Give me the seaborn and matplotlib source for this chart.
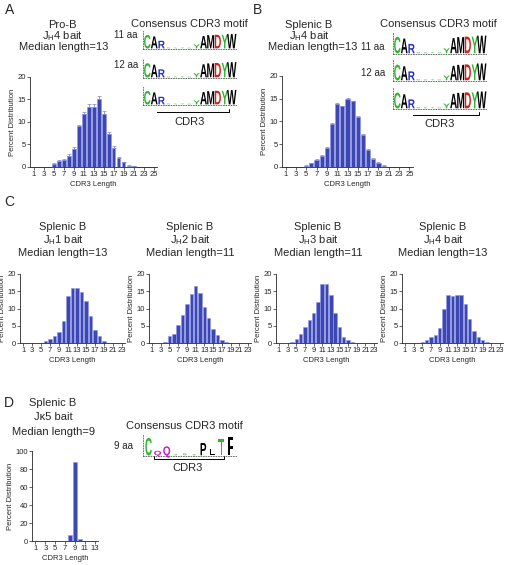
import matplotlib
matplotlib.use("Agg")
import numpy as np
import pandas as pd
import seaborn as sns
import matplotlib.pyplot as plt
from matplotlib import patheffects
from matplotlib.transforms import Affine2D

sns.set_style("ticks")
plt.rcParams["font.family"] = ["Liberation Sans", "DejaVu Sans"]
plt.rcParams["mathtext.default"] = "regular"

# CDR3 length distributions (percent)
len_25 = list(range(1, 26))
len_23 = list(range(1, 24))
len_13 = list(range(1, 14))

prob_jh4 = [0, 0, 0.05, 0.1, 0.7, 1.3, 1.5, 2.5, 4.1, 9.0, 11.8, 13.3, 13.3,
            15.0, 11.7, 7.4, 4.2, 2.0, 1.0, 0.3, 0.15, 0.05, 0, 0, 0]
prob_jh4_err = [0, 0, 0, 0, 0.15, 0.2, 0.2, 0.3, 0.3, 0.4, 0.4, 0.8, 0.8,
                0.7, 0.8, 0.3, 0.4, 0.15, 0.1, 0.05, 0, 0, 0, 0, 0]
spl_jh4 = [0, 0, 0, 0.05, 0.3, 0.8, 1.6, 2.4, 4.2, 9.5, 13.9, 13.3, 15.0,
           14.4, 11.0, 7.0, 3.7, 1.8, 0.9, 0.3, 0.1, 0, 0, 0, 0]
spl_jh4_err = [0, 0, 0, 0, 0.1, 0.1, 0.1, 0.2, 0.2, 0.2, 0.2, 0.2, 0.2,
               0.2, 0.2, 0.2, 0.2, 0.1, 0.1, 0.05, 0, 0, 0, 0, 0]

spl_jh1 = [0, 0, 0, 0, 0.1, 0.5, 1.3, 1.9, 3.1, 6.5, 13.5, 15.8, 16.0,
           14.8, 12.1, 7.8, 3.9, 2.0, 0.5, 0.1, 0, 0, 0]
spl_jh2 = [0, 0, 0, 0.2, 2.0, 2.6, 5.2, 8.1, 11.2, 14.2, 16.5, 14.5, 10.5,
           7.2, 4.0, 2.2, 1.0, 0.2, 0, 0, 0, 0, 0]
spl_jh3 = [0, 0, 0, 0.2, 1.3, 2.5, 4.5, 6.6, 8.8, 12.0, 17.0, 17.1, 13.8,
           8.7, 4.6, 1.8, 0.8, 0.2, 0, 0, 0, 0, 0]
spl_jh4c = [0, 0, 0, 0, 0.4, 0.8, 1.6, 2.4, 4.3, 9.8, 14.0, 13.7, 14.0,
            13.8, 11.3, 7.0, 3.4, 1.6, 0.8, 0.2, 0, 0, 0]
spl_jk5 = [0, 0, 0, 0, 0, 0, 0.5, 6.5, 88.0, 2.5, 0.3, 0, 0]

# consensus motif logos (letter, information content in bits, colour)
heavy_letters = ["C", "A", "R", "G", "S", "Y", "G", "Y", "A", "M", "D", "Y", "W"]
heavy_bits = [3.3, 3.0, 1.9, 0.25, 0.2, 0.25, 0.2, 1.0, 3.1, 3.3, 3.4, 3.4, 3.6]
heavy_colors = ["#2fb52f", "black", "#2233cc", "#2fb52f", "#2fb52f", "#2fb52f",
                "#2fb52f", "#2fb52f", "black", "black", "#d42020", "#2fb52f", "black"]
light_letters = ["C", "Q", "Q", "S", "G", "S", "P", "L", "T", "F"]
light_bits = [3.5, 0.9, 1.8, 0.25, 0.45, 0.25, 2.5, 1.2, 3.3, 3.7]
light_colors = ["#2fb52f", "#c020c0", "#c020c0", "#2fb52f", "#2fb52f", "#2fb52f",
                "black", "black", "#2fb52f", "black"]

W, H = 505, 565
fig = plt.figure(figsize=(W / 100, H / 100), dpi=100)
ov = fig.add_axes([0, 0, 1, 1])
ov.set_xlim(0, W)
ov.set_ylim(H, 0)
ov.axis("off")

BAR = "#2a37c4"


class Stretch(patheffects.AbstractPathEffect):
    """Stretch a glyph vertically about its baseline (logo letters)."""

    def __init__(self, sy):
        super().__init__()
        self.sy = sy

    def draw_path(self, renderer, gc, tpath, affine, rgbFace=None):
        ext = tpath.get_extents()
        cx = (ext.x0 + ext.x1) / 2
        t = Affine2D().translate(-cx, 0).scale(1, self.sy).translate(cx, 0) + affine
        renderer.draw_path(gc, tpath, t, rgbFace)


def px_axes(x0, y0, x1, y1):
    return fig.add_axes([x0 / W, 1 - y1 / H, (x1 - x0) / W, (y1 - y0) / H])


def bar_panel(box, lengths, vals, errs, ymax, ystep):
    ax = px_axes(*box)
    df = pd.DataFrame({"len": lengths, "pct": vals})
    sns.barplot(data=df, x="len", y="pct", native_scale=True, width=0.8,
                color=BAR, edgecolor="#8e97ee", linewidth=0.4,
                errorbar=None, ax=ax)
    if errs is not None:
        ax.errorbar(lengths, vals, yerr=[np.zeros(len(errs)), errs], fmt="none",
                    ecolor="#8088c8", elinewidth=0.6, capsize=1.2, capthick=0.5)
    ax.set_xlim(lengths[0] - 0.7, lengths[-1] + 0.7)
    ax.set_ylim(0, ymax)
    ax.set_xticks(lengths[::2])
    ax.set_yticks(np.arange(0, ymax + 1, ystep))
    ax.tick_params(labelsize=5.5, length=2, width=0.5, pad=1)
    ax.set_xlabel("CDR3 Length", fontsize=5.5, labelpad=2)
    ax.set_ylabel("Percent Distribution", fontsize=5.5, labelpad=1)
    for s in ["left", "bottom"]:
        ax.spines[s].set_linewidth(0.6)
    sns.despine(ax=ax)
    return ax


def logo(box, letters, bits, colors):
    ax = px_axes(*box)
    n = len(letters)
    ax.set_xlim(-0.6, n - 0.4)
    ax.set_ylim(0, 4.3)
    h_px = box[3] - box[1]
    for i, (ch, b, c) in enumerate(zip(letters, bits, colors)):
        fs = 7.2 if b >= 0.6 else 3.5
        want = b / 4.3 * h_px
        sy = want / (0.72 * fs * 100 / 72)
        ax.text(i, 0.15, ch, ha="center", va="baseline", color=c,
                fontsize=fs, fontweight="bold",
                path_effects=[Stretch(sy)])
    ax.set_xticks([])
    ax.set_yticks([])
    ax.patch.set_alpha(0)
    for s in ["top", "right"]:
        ax.spines[s].set_visible(False)
    for s in ["left", "bottom"]:
        ax.spines[s].set_linestyle((0, (1, 2)))
        ax.spines[s].set_linewidth(0.6)
        ax.spines[s].set_color("#555555")


def txt(x, y, s, size=8, **kw):
    ov.text(x, y, s, ha="center", va="center", fontsize=size, **kw)


def bracket(x0, x1, y):
    ov.plot([x0, x0, x1, x1], [y - 3, y, y, y - 3], color="black", lw=0.7)


# panel letters
for lab, x, y in [("A", 10, 10), ("B", 258, 10), ("C", 9, 202), ("D", 9, 403)]:
    txt(x, y, lab, size=10)

# A
txt(62, 25, "Pro-B")
txt(62, 36, "J$_\\mathregular{H}$4 bait")
txt(64, 47, "Median length=13")
bar_panel((30, 77, 157, 167), len_25, prob_jh4, prob_jh4_err, 20, 5)
txt(189, 24, "Consensus CDR3 motif")
for lab, yc, (y0, y1) in [("11 aa", 35, (31, 49)), ("12 aa", 65, (59, 78)),
                          ("13 aa", 93, (87, 105))]:
    txt(126, yc, lab, size=7)
    logo((143, y0, 236, y1), heavy_letters, heavy_bits, heavy_colors)
bracket(152, 229, 112)
txt(190, 122, "CDR3")

# B
txt(309, 25, "Splenic B")
txt(309, 36, "J$_\\mathregular{H}$4 bait")
txt(313, 47, "Median length=13")
bar_panel((282, 76, 413, 167), len_25, spl_jh4, spl_jh4_err, 20, 5)
txt(438, 24, "Consensus CDR3 motif")
for lab, yc, (y0, y1) in [("11 aa", 47, (32, 54)), ("12 aa", 73, (60, 81)),
                          ("13 aa", 100, (88, 109))]:
    txt(373, yc, lab, size=7)
    logo((393, y0, 486, y1), heavy_letters, heavy_bits, heavy_colors)
bracket(402, 479, 115)
txt(440, 124, "CDR3")

# C
c_panels = [(63, "1", "13", (20, 274, 125, 343), spl_jh1),
            (190, "2", "11", (149, 274, 251, 343), spl_jh2),
            (318, "3", "11", (276, 274, 377, 343), spl_jh3),
            (443, "4", "13", (402, 274, 503, 343), spl_jh4c)]
for xc, jh, med, box, vals in c_panels:
    txt(xc, 227, "Splenic B")
    txt(xc, 240, "J$_\\mathregular{H}$" + jh + " bait")
    txt(xc, 253, "Median length=" + med)
    bar_panel(box, len_23, vals, None, 20, 5)

# D
txt(53, 403, "Splenic B")
txt(53, 417, "J\u03ba5 bait")
txt(53, 432, "Median length=9")
bar_panel((32, 451, 98, 541), len_13, spl_jk5, None, 100, 20)
txt(184, 426, "Consensus CDR3 motif")
txt(124, 446, "9 aa", size=7)
logo((143, 434, 236, 456), light_letters, light_bits, light_colors)
bracket(154, 224, 459)
txt(188, 468, "CDR3")

fig.savefig("out.png", dpi=100)
